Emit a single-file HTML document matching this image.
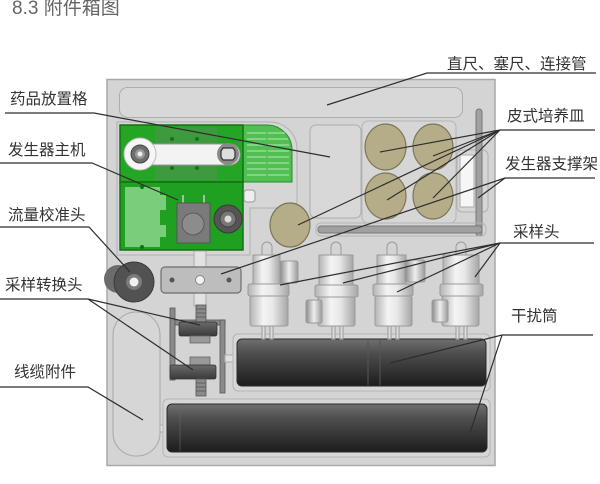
<!DOCTYPE html>
<html><head><meta charset="utf-8"><style>
html,body{margin:0;padding:0;background:#fff;}
svg{display:block;}
text{font-family:"Liberation Sans","Noto Sans CJK SC",sans-serif;}
</style></head><body>
<svg width="600" height="484" viewBox="0 0 600 484" xmlns="http://www.w3.org/2000/svg">
<defs>
<linearGradient id="cyl" x1="0" y1="0" x2="1" y2="0">
<stop offset="0" stop-color="#b4b4b4"/><stop offset="0.35" stop-color="#f4f4f4"/><stop offset="0.6" stop-color="#e8e8e8"/><stop offset="1" stop-color="#a6a6a6"/>
</linearGradient>
<linearGradient id="fit" x1="0" y1="0" x2="1" y2="0">
<stop offset="0" stop-color="#8a8a8a"/><stop offset="0.5" stop-color="#eeeeee"/><stop offset="1" stop-color="#9a9a9a"/>
</linearGradient>
<linearGradient id="dark" x1="0" y1="0" x2="0" y2="1">
<stop offset="0" stop-color="#707070"/><stop offset="0.3" stop-color="#4e4e4e"/><stop offset="0.75" stop-color="#2e2e2e"/><stop offset="1" stop-color="#1c1c1c"/>
</linearGradient>
<linearGradient id="nut" x1="0" y1="0" x2="0" y2="1">
<stop offset="0" stop-color="#6a6a6a"/><stop offset="1" stop-color="#3a3a3a"/>
</linearGradient>
</defs>
<rect width="600" height="484" fill="#fff"/>

<text x="12" y="14" font-size="19" fill="#666">8.3 附件箱图</text>

<!-- main box -->
<rect x="107" y="79.5" width="388" height="386" fill="#d4d4d4" stroke="#a8a8a8" stroke-width="1.5"/>
<!-- top compartment -->
<rect x="119.5" y="87.5" width="343" height="30" rx="8" fill="#d8d8d8" stroke="#adadad"/>
<!-- green compartment outline -->
<path d="M117,122 H270 A27,27 0 0 1 297,149 V200 Q297,208 289,208 H250 V255 H117 Z" fill="#d6d6d6" stroke="#b0b0b0"/>
<!-- medicine compartment -->
<rect x="310" y="125" width="51" height="93" rx="6" fill="#d8d8d8" stroke="#adadad"/>
<!-- dish compartment -->
<rect x="362" y="121" width="94" height="102" rx="6" fill="#d6d6d6" stroke="#b5b5b5"/>
<!-- slot compartment -->
<rect x="457" y="150" width="31" height="62" rx="5" fill="#d6d6d6" stroke="#b0b0b0"/>
<rect x="460" y="155" width="14" height="52" fill="#f6f6f6" stroke="#aaa"/>
<!-- rod L -->
<rect x="476" y="109" width="6" height="127" rx="3" fill="#a0a0a0" stroke="#777"/>
<rect x="318" y="226" width="164" height="7" rx="3" fill="#a0a0a0" stroke="#777"/>
<rect x="316" y="223" width="170" height="13" rx="5" fill="none" stroke="#b5b5b5"/>

<!-- green unit -->
<path d="M243,125 H267 A25,25 0 0 1 292,150 V182 H243 Z" fill="#52bf52" stroke="#2a8a2a"/>
<g stroke="#93dc93" stroke-width="1.5">
<line x1="247" y1="133" x2="285" y2="133"/><line x1="247" y1="139" x2="288" y2="139"/><line x1="247" y1="145" x2="289" y2="145"/><line x1="247" y1="151" x2="289" y2="151"/><line x1="247" y1="157" x2="289" y2="157"/><line x1="247" y1="163" x2="289" y2="163"/><line x1="247" y1="169" x2="289" y2="169"/><line x1="247" y1="175" x2="289" y2="175"/>
</g>
<line x1="267" y1="130" x2="267" y2="178" stroke="#52bf52" stroke-width="1.5"/>
<rect x="120" y="125" width="123" height="57" fill="#25a525" stroke="#137013" stroke-width="1.5"/>
<rect x="155" y="127" width="62" height="53" fill="#3e9a3e"/>
<g fill="#1f6e1f"><circle cx="172" cy="139" r="2"/><circle cx="197" cy="139" r="2"/><circle cx="172" cy="168" r="2"/><circle cx="197" cy="168" r="2"/></g>
<rect x="130" y="144" width="110" height="21" rx="10" fill="#f3f3f3" stroke="#999"/>
<circle cx="140" cy="154" r="16" fill="#f6f6f6" stroke="#bbb"/>
<circle cx="140" cy="154" r="9" fill="#6e6e6e" stroke="#444"/>
<circle cx="140" cy="154" r="5" fill="#999"/>
<circle cx="140" cy="154" r="2.5" fill="#eee"/>
<circle cx="228" cy="154" r="11" fill="#8a8a8a"/>
<polygon points="223,148 233,148 235,151 235,157 233,160 223,160 221,157 221,151" fill="#ddd" stroke="#333" stroke-width="1.2"/>
<rect x="120" y="182" width="123" height="68" fill="#20a020" stroke="#137013" stroke-width="1.5"/>
<rect x="125" y="187" width="35" height="60" fill="#7acd7a"/>
<rect x="160" y="195" width="6" height="15" fill="#7acd7a"/>
<rect x="160" y="225" width="6" height="12" fill="#7acd7a"/>
<circle cx="142" cy="187" r="2" fill="#137013"/><circle cx="142" cy="247" r="2" fill="#137013"/>
<line x1="183" y1="195" x2="183" y2="203" stroke="#ccc" stroke-width="1.5"/>
<line x1="204" y1="195" x2="204" y2="203" stroke="#ccc" stroke-width="1.5"/>
<rect x="177" y="203" width="33" height="40" fill="#7a7a7a" stroke="#555"/>
<circle cx="193" cy="224" r="11" fill="#8c8c8c" stroke="#5a5a5a"/>
<circle cx="228" cy="219" r="14" fill="#555" stroke="#3a3a3a"/>
<circle cx="228" cy="219" r="8" fill="#777" stroke="#444"/>
<circle cx="228" cy="219" r="3.5" fill="#ddd"/>
<rect x="244" y="190" width="11" height="12" rx="3" fill="#eee" stroke="#999"/>

<!-- dishes -->
<g fill="#b4ad87" stroke="#7b7658" stroke-width="1.2">
<ellipse cx="385.5" cy="147" rx="20.5" ry="23"/>
<ellipse cx="433" cy="147" rx="20" ry="23"/>
<ellipse cx="385.5" cy="196" rx="20.5" ry="23"/>
<ellipse cx="433" cy="196" rx="20" ry="23"/>
<ellipse cx="290" cy="225" rx="20" ry="22"/>
</g>

<!-- flow calibration head -->
<circle cx="118" cy="279" r="14" fill="#6c6c6c"/>
<circle cx="134" cy="282" r="20" fill="#525252" stroke="#3a3a3a"/>
<circle cx="134" cy="282" r="8" fill="#7a7a7a"/>
<circle cx="134" cy="282" r="4.5" fill="#f2f2f2"/>

<!-- plate & stem -->
<rect x="194" y="251" width="12" height="16" fill="#e2e2e2" stroke="#aaa"/>
<rect x="194" y="293" width="12" height="13" fill="#e2e2e2" stroke="#aaa"/>
<rect x="161" y="267" width="80" height="26" rx="4" fill="#bdbdbd" stroke="#6e6e6e" stroke-width="1.2"/>
<circle cx="172" cy="280" r="2.5" fill="#555"/>
<circle cx="200" cy="280" r="4.5" fill="#f2f2f2" stroke="#888"/>
<circle cx="229" cy="280" r="2.5" fill="#555"/>

<!-- cable pill -->
<rect x="113" y="312" width="47" height="144" rx="23" fill="#d6d6d6" stroke="#a8a8a8"/>

<!-- converter -->
<rect x="170" y="308" width="5" height="72" fill="#8a8a8a" stroke="#555" stroke-width="0.8"/>
<rect x="175" y="320" width="50" height="5" fill="#8a8a8a" stroke="#555" stroke-width="0.8"/>
<rect x="220" y="320" width="5" height="73" fill="#8a8a8a" stroke="#555" stroke-width="0.8"/>
<rect x="196" y="305" width="10" height="17" fill="#8a8a8a" stroke="#555" stroke-width="0.8"/>
<g stroke="#555" stroke-width="0.8"><line x1="196" y1="309" x2="206" y2="309"/><line x1="196" y1="313" x2="206" y2="313"/><line x1="196" y1="317" x2="206" y2="317"/></g>
<rect x="179" y="322" width="38" height="14" rx="2" fill="url(#nut)" stroke="#333" stroke-width="0.8"/>
<rect x="190" y="336" width="20" height="7" fill="#999" stroke="#666" stroke-width="0.8"/>
<rect x="190" y="357" width="20" height="8" fill="#999" stroke="#666" stroke-width="0.8"/>
<rect x="170" y="365" width="46" height="14" rx="2" fill="url(#nut)" stroke="#333" stroke-width="0.8"/>
<rect x="196" y="379" width="10" height="17" fill="#8a8a8a" stroke="#555" stroke-width="0.8"/>
<g stroke="#555" stroke-width="0.8"><line x1="196" y1="383" x2="206" y2="383"/><line x1="196" y1="387" x2="206" y2="387"/><line x1="196" y1="391" x2="206" y2="391"/></g>
<rect x="225" y="355" width="12" height="7" fill="#e0e0e0" stroke="#aaa"/>
<rect x="160" y="425" width="7" height="7" fill="#e0e0e0" stroke="#aaa"/>

<!-- cylinder compartments -->
<rect x="233" y="334" width="257" height="57" rx="5" fill="#d6d6d6" stroke="#b5b5b5"/>
<rect x="163" y="399" width="327" height="58" rx="5" fill="#d6d6d6" stroke="#b5b5b5"/>
<!-- dark cylinders -->
<rect x="237" y="339" width="249" height="47" rx="5" fill="url(#dark)" stroke="#2a2a2a"/>
<line x1="368" y1="340" x2="368" y2="385" stroke="#555"/>
<line x1="380" y1="340" x2="380" y2="385" stroke="#555"/>
<rect x="167" y="404" width="320" height="48" rx="5" fill="url(#dark)" stroke="#2a2a2a"/>
<line x1="180" y1="405" x2="180" y2="451" stroke="#666" stroke-opacity="0.6"/>

<!-- samplers -->
<g stroke="#9a9a9a" stroke-width="1">
<path d="M262,256 V247 a5,5 0 0 1 10,0 V256" fill="none"/>
<rect x="253" y="255" width="27" height="29" fill="url(#cyl)"/>
<rect x="280" y="261" width="18" height="22" rx="2" fill="url(#fit)"/>
<rect x="248" y="284" width="41" height="12" rx="2" fill="url(#cyl)"/>
<rect x="250" y="296" width="38" height="30" rx="2" fill="url(#cyl)"/>
<rect x="262" y="326" width="3" height="13" fill="#ddd"/><rect x="270" y="326" width="3" height="13" fill="#ddd"/>

<path d="M331,256 V247 a5,5 0 0 1 10,0 V256" fill="none"/>
<rect x="319" y="255" width="34" height="30" fill="url(#cyl)"/>
<rect x="315" y="285" width="43" height="12" rx="2" fill="url(#cyl)"/>
<rect x="318" y="297" width="37" height="29" rx="2" fill="url(#cyl)"/>
<rect x="306" y="300" width="16" height="23" rx="2" fill="url(#fit)"/>
<rect x="332" y="326" width="3" height="13" fill="#ddd"/><rect x="340" y="326" width="3" height="13" fill="#ddd"/>

<path d="M387,256 V247 a5,5 0 0 1 10,0 V256" fill="none"/>
<rect x="377" y="255" width="29" height="29" fill="url(#cyl)"/>
<rect x="405" y="260" width="20" height="22" rx="2" fill="url(#fit)"/>
<rect x="373" y="284" width="40" height="12" rx="2" fill="url(#cyl)"/>
<rect x="375" y="296" width="37" height="30" rx="2" fill="url(#cyl)"/>
<rect x="388" y="326" width="3" height="13" fill="#ddd"/><rect x="396" y="326" width="3" height="13" fill="#ddd"/>

<path d="M456,256 V247 a5,5 0 0 1 10,0 V256" fill="none"/>
<rect x="443" y="255" width="36" height="29" fill="url(#cyl)"/>
<rect x="440" y="284" width="43" height="12" rx="2" fill="url(#cyl)"/>
<rect x="442" y="296" width="37" height="30" rx="2" fill="url(#cyl)"/>
<rect x="432" y="300" width="16" height="22" rx="2" fill="url(#fit)"/>
<rect x="456" y="326" width="3" height="13" fill="#ddd"/><rect x="464" y="326" width="3" height="13" fill="#ddd"/>
</g>

<!-- leader lines -->
<g stroke="#2e2e2e" stroke-width="1.2" fill="none">
<polyline points="5,113 94,113 330,157"/>
<polyline points="0,163 92,163 178,200"/>
<polyline points="0,227 89,227 130,272"/>
<polyline points="0,299 88,299 200,325"/>
<line x1="88" y1="299" x2="193" y2="370"/>
<polyline points="0,387 88,387 143,420"/>

<polyline points="596,73 427,73 327,105"/>
<polyline points="595,130 500,130 380,152"/>
<line x1="500" y1="130" x2="433" y2="156"/>
<line x1="500" y1="130" x2="387" y2="200"/>
<line x1="500" y1="130" x2="433" y2="198"/>
<line x1="500" y1="130" x2="298" y2="225"/>
<polyline points="595,178 505,178 478,198"/>
<line x1="505" y1="178" x2="221" y2="274"/>
<polyline points="594,243 500,243 280,285"/>
<line x1="500" y1="243" x2="343" y2="283"/>
<line x1="500" y1="243" x2="397" y2="292"/>
<line x1="500" y1="243" x2="475" y2="277"/>
<polyline points="593,335 502,335 390,363"/>
<line x1="502" y1="335" x2="470" y2="433"/>
</g>

<!-- labels -->
<g font-size="15.5" fill="#333">
<text x="10" y="104">药品放置格</text>
<text x="8" y="155">发生器主机</text>
<text x="8" y="220">流量校准头</text>
<text x="5" y="290">采样转换头</text>
<text x="14" y="377">线缆附件</text>
<text x="447" y="69">直尺、塞尺、连接管</text>
<text x="507" y="121">皮式培养皿</text>
<text x="505" y="169">发生器支撑架</text>
<text x="513" y="237">采样头</text>
<text x="511" y="321">干扰筒</text>
</g>
</svg>
</body></html>
